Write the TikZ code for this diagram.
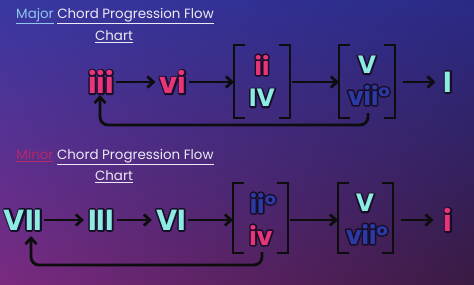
\documentclass[tikz,border=0pt]{standalone}
\usepackage{fontspec}
\setmainfont{Poppins}[BoldFont={* Bold}]
\usetikzlibrary{arrows.meta,shadings}
\definecolor{pinkc}{HTML}{E8357A}
\definecolor{cyanc}{HTML}{8CEBE2}
\definecolor{navyc}{HTML}{2C3AA6}
\definecolor{outc}{HTML}{1A0E2A}
\definecolor{titlec}{HTML}{ECEAF6}
\definecolor{majc}{HTML}{8EC6EE}
\definecolor{minc}{HTML}{B82868}
\definecolor{bgul}{HTML}{3838A2}
\definecolor{bgur}{HTML}{2A2A86}
\definecolor{bgll}{HTML}{7A2A80}
\definecolor{bglr}{HTML}{3A1A42}
\newcommand{\ol}[2]{\rlap{\textcolor{outc}{\special{pdf:literal direct 2 Tr 3.2 w 1 j 0.1 0.055 0.165 RG}#2\special{pdf:literal direct 0 Tr}}}\textcolor{#1}{#2}}
\tikzset{
  chord/.style={inner sep=0pt, font=\fontsize{29}{29}\bfseries},
  small/.style={inner sep=0pt, font=\fontsize{25}{25}\bfseries},
  flow/.style={line width=2.8pt, draw=black!95, -{Straight Barb[length=6pt,width=11pt,line width=2.8pt]}},
  back/.style={line width=2.8pt, draw=black!95, rounded corners=8pt, -{Straight Barb[length=6pt,width=11pt,line width=2.8pt]}},
  brk/.style={line width=1.5pt, draw=black!95},
  ttl/.style={font=\fontsize{13.4}{13.4}\selectfont, text=titlec, inner sep=0pt}
}
\newcommand{\ul}[1]{\underline{#1}}
\begin{document}
\begin{tikzpicture}[x=1pt,y=-1pt]
\useasboundingbox (0,0) rectangle (474,284);
\shade[upper left=bgul, upper right=bgur, lower left=bgll, lower right=bglr] (0,284) rectangle (474,0);
% titles
\node[ttl] (t1) at (115,16) {\textcolor{majc}{\ul{Major}} \ul{Chord Progression Flow}};
\node[ttl] (t1b) at (114,37) {\ul{Chart}};
\node[ttl] (t2) at (115,157) {\textcolor{minc}{\ul{Minor}} \ul{Chord Progression Flow}};
\node[ttl] (t2b) at (114,177) {\ul{Chart}};
% major row
\node[chord] (iii) at (101,82) {\ol{pinkc}{iii}};
\node[chord] (vi) at (173,82) {\ol{pinkc}{vi}};
\coordinate (b1w) at (234,82);
\node[small] (ii) at (262,65) {\ol{pinkc}{ii}};
\node[small] (IV) at (262,98) {\ol{cyanc}{IV}};
\coordinate (b1e) at (290,82);
\coordinate (b2w) at (339,82);
\node[small] (V) at (367,65) {\ol{cyanc}{V}};
\node[small] (vii) at (369,95) {\ol{navyc}{vii°}};
\coordinate (b2e) at (395,82);
\node[chord] (I) at (448,82) {\ol{cyanc}{I}};
\draw[brk] (245,45) -- (234,45) -- (234,118) -- (245,118);
\draw[brk] (279,45) -- (290,45) -- (290,118) -- (279,118);
\draw[brk] (350,45) -- (339,45) -- (339,118) -- (350,118);
\draw[brk] (384,45) -- (395,45) -- (395,118) -- (384,118);
\draw[flow] ([xshift=2pt]iii.east) -- ([xshift=-4pt]vi.west);
\draw[flow] ([xshift=2pt]vi.east) -- (b1w);
\draw[flow] ([xshift=2pt]b1e) -- (b2w);
\draw[flow] ([xshift=8pt]b2e) -- ([xshift=-8pt]I.west);
\coordinate (f1) at (368,113);
\coordinate (iiib) at (100,95);
\draw[back] (f1) -- (368,125) -- (100,125) -- (iiib);
% minor row
\node[chord] (VII) at (23,220) {\ol{cyanc}{VII}};
\node[chord] (III) at (101,220) {\ol{cyanc}{III}};
\node[chord] (VI) at (171,220) {\ol{cyanc}{VI}};
\coordinate (c1w) at (233,220);
\node[small] (iio) at (263,203) {\ol{navyc}{ii°}};
\node[small] (iv) at (261,235) {\ol{pinkc}{iv}};
\coordinate (c1e) at (288,220);
\coordinate (c2w) at (338,220);
\node[small] (V2) at (365,203) {\ol{cyanc}{V}};
\node[small] (vii2) at (367,234) {\ol{navyc}{vii°}};
\coordinate (c2e) at (393,220);
\node[chord] (i) at (448,220) {\ol{pinkc}{i}};
\draw[brk] (244,183) -- (233,183) -- (233,253) -- (244,253);
\draw[brk] (277,183) -- (288,183) -- (288,253) -- (277,253);
\draw[brk] (349,183) -- (338,183) -- (338,253) -- (349,253);
\draw[brk] (382,183) -- (393,183) -- (393,253) -- (382,253);
\draw[flow] ([xshift=2pt]VII.east) -- ([xshift=-4pt]III.west);
\draw[flow] ([xshift=3pt]III.east) -- ([xshift=-4pt]VI.west);
\draw[flow] ([xshift=2pt]VI.east) -- (c1w);
\draw[flow] ([xshift=2pt]c1e) -- (c2w);
\draw[flow] ([xshift=8pt]c2e) -- ([xshift=-10pt]i.west);
\coordinate (f2) at (262,252);
\coordinate (VIIb) at (31,236);
\draw[back] (f2) -- (262,265) -- (31,265) -- (VIIb);
\end{tikzpicture}
\end{document}
